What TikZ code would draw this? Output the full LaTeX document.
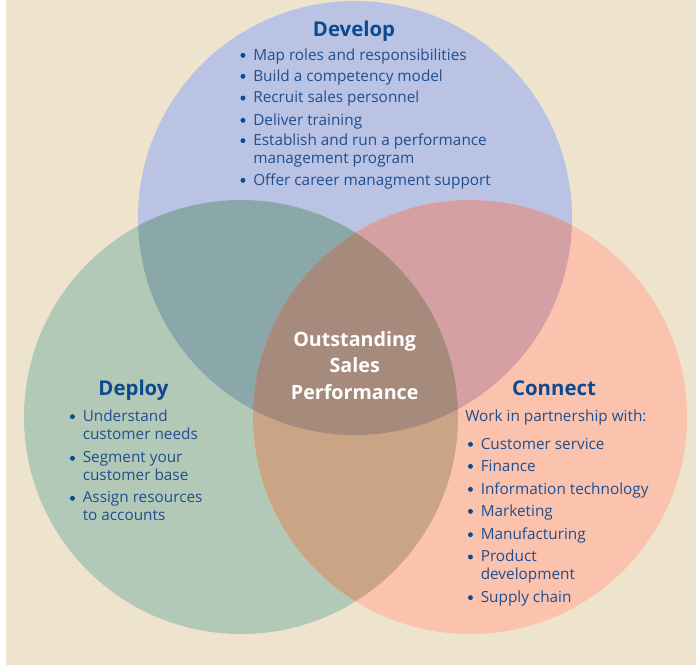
\documentclass[tikz,border=0pt]{standalone}
\usepackage{fontspec}
\setmainfont{Open Sans}
\usepackage{tikz}
\usetikzlibrary{positioning}
\usepackage{xcolor}

\definecolor{paper}{HTML}{EEE3CC}
\definecolor{devfill}{HTML}{BAC3E4}
\definecolor{depfill}{HTML}{B3C9B7}
\definecolor{confill}{HTML}{FBC2AE}
\definecolor{devdep}{HTML}{8AA7A9}
\definecolor{devcon}{HTML}{D4A0A4}
\definecolor{depcon}{HTML}{C9A485}
\definecolor{allthree}{HTML}{A68A7C}
\definecolor{headblue}{HTML}{0B4A8F}
\definecolor{textblue}{HTML}{1F4F8E}

% hanging dot in front of a list line
\newcommand{\bul}{\leavevmode\llap{\tikz[baseline=-3.3pt]\fill[headblue] (0pt,0pt) circle (1.75pt);\hspace{5.6pt}}}

\begin{document}
\begin{tikzpicture}[
    x=0.025cm, y=-0.025cm,
    heading/.style={anchor=base, inner sep=0pt, text=headblue, font=\fontsize{14.5}{16}\selectfont\bfseries},
    item/.style={anchor=base west, align=left, inner sep=0pt, text=textblue,
      font=\fontsize{10.9}{12.6}\selectfont},
    core/.style={anchor=base, inner sep=0pt, text=white, font=\fontsize{14}{16}\selectfont\bfseries}
]
\useasboundingbox (0,0) rectangle (696,666);
\fill[paper] (6,0) rectangle (696,665);

% circle centres, all of radius 217
\coordinate (cdev) at (355,218);
\coordinate (cdep) at (241,417);
\coordinate (ccon) at (470,417);

\fill[devfill] (cdev) circle (217);
\fill[depfill] (cdep) circle (217);
\fill[confill] (ccon) circle (217);
\begin{scope}
  \clip (cdev) circle (217);
  \fill[devdep] (cdep) circle (217);
  \fill[devcon] (ccon) circle (217);
\end{scope}
\begin{scope}
  \clip (cdep) circle (217);
  \fill[depcon] (ccon) circle (217);
  \clip (ccon) circle (217);
  \fill[allthree] (cdev) circle (217);
\end{scope}

% Develop (two-line items sit on their last baseline)
\node[heading] (develop) at (354,36) {Develop};
\node[item] (dev1) at (253,60) {\bul Map roles and responsibilities};
\node[item] (dev2) at (253,81) {\bul Build a competency model};
\node[item] (dev3) at (253,102.7) {\bul Recruit sales personnel};
\node[item] (dev4) at (253,125) {\bul Deliver training};
\node[item] (dev5) at (253,163) {\bul Establish and run a performance\\management program};
\node[item] (dev6) at (253,185) {\bul Offer career managment support};

% Deploy
\node[heading] (deploy) at (133.5,395) {Deploy};
\node[item] (dep1) at (82.5,439) {\bul Understand\\customer needs};
\node[item] (dep2) at (82.5,480.7) {\bul Segment your\\customer base};
\node[item] (dep3) at (82.5,520.7) {\bul Assign resources\\to accounts};

% Connect
\node[heading] (connect) at (554,395) {Connect};
\node[item] (partners) at (465,421.7) {Work in partnership with:};
\node[item] (con1) at (480.5,449) {\bul Customer service};
\node[item] (con2) at (480.5,471) {\bul Finance};
\node[item] (con3) at (480.5,494) {\bul Information technology};
\node[item] (con4) at (480.5,516) {\bul Marketing};
\node[item] (con5) at (480.5,539.3) {\bul Manufacturing};
\node[item] (con6) at (480.5,579.3) {\bul Product\\development};
\node[item] (con7) at (480.5,602.3) {\bul Supply chain};

% centre
\node[core] (outstanding) at (354.7,346) {Outstanding};
\node[core] (sales) at (354.7,372.7) {Sales};
\node[core] (perf) at (354.7,399.3) {Performance};
\end{tikzpicture}
\end{document}
